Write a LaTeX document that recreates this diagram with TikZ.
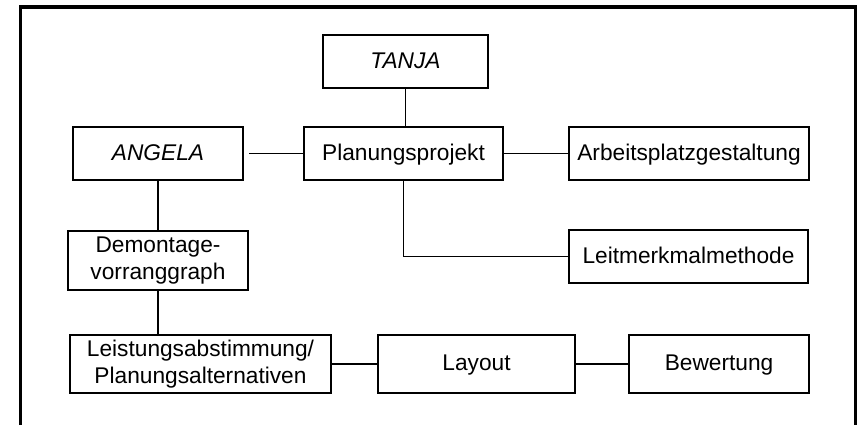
\documentclass[tikz,border=0pt]{standalone}
\usepackage{fontspec}
\setmainfont{Liberation Sans}
\begin{document}
\begin{tikzpicture}[x=1pt,y=-1pt,
  box/.style={draw=black,line width=2.2pt,fill=white,inner sep=0pt,
    font=\fontsize{22.7}{27}\selectfont,align=center},
  oneline/.style={text height=16.5pt,text depth=3pt},
  link/.style={draw=black,line width=1.6pt}]
  \useasboundingbox (0,0) rectangle (858,425);
  % open frame around the chart
  \draw[line width=3.5pt] (20.5,425) -- (20.5,7) -- (855.5,7) -- (855.5,425);

  % boxes
  \node[box,oneline,minimum width=165pt,minimum height=53pt] (tanja)  at (405.5,61.5) {\itshape TANJA};
  \node[box,oneline,minimum width=170pt,minimum height=53pt] (angela) at (158,153.5)  {\itshape ANGELA};
  \node[box,oneline,minimum width=199pt,minimum height=53pt] (plan)   at (403.5,153.5) {Planungsprojekt};
  \node[box,oneline,minimum width=240pt,minimum height=53pt] (arbeit) at (689,153.5)  {Arbeitsplatzgestaltung};
  \node[box,oneline,minimum width=239pt,minimum height=53pt] (leit)   at (688.5,256.5) {Leitmerkmalmethode};
  \node[box,minimum width=180pt,minimum height=59pt] (demo)   at (158,260.5)  {Demontage-\\vorranggraph};
  \node[box,minimum width=261pt,minimum height=58pt] (leist)  at (200.5,364)  {Leistungsabstimmung/\\Planungsalternativen};
  \node[box,oneline,minimum width=197pt,minimum height=58pt] (layout) at (476.5,364)  {Layout};
  \node[box,oneline,minimum width=180pt,minimum height=58pt] (bew)    at (719,364)    {Bewertung};

  % connectors
  \draw[link] (tanja.south) -- (tanja.south |- plan.north);
  \draw[link,shorten <=5pt] (angela.east) -- (plan.west);
  \draw[link] (plan.east) -- (arbeit.west);
  \draw[link] (plan.south) |- (leit.west);
  \draw[link] (angela.south) -- (demo.north);
  \draw[link] (demo.south) -- (demo.south |- leist.north);
  \draw[link] (leist.east) -- (layout.west);
  \draw[link] (layout.east) -- (bew.west);
\end{tikzpicture}
\end{document}
